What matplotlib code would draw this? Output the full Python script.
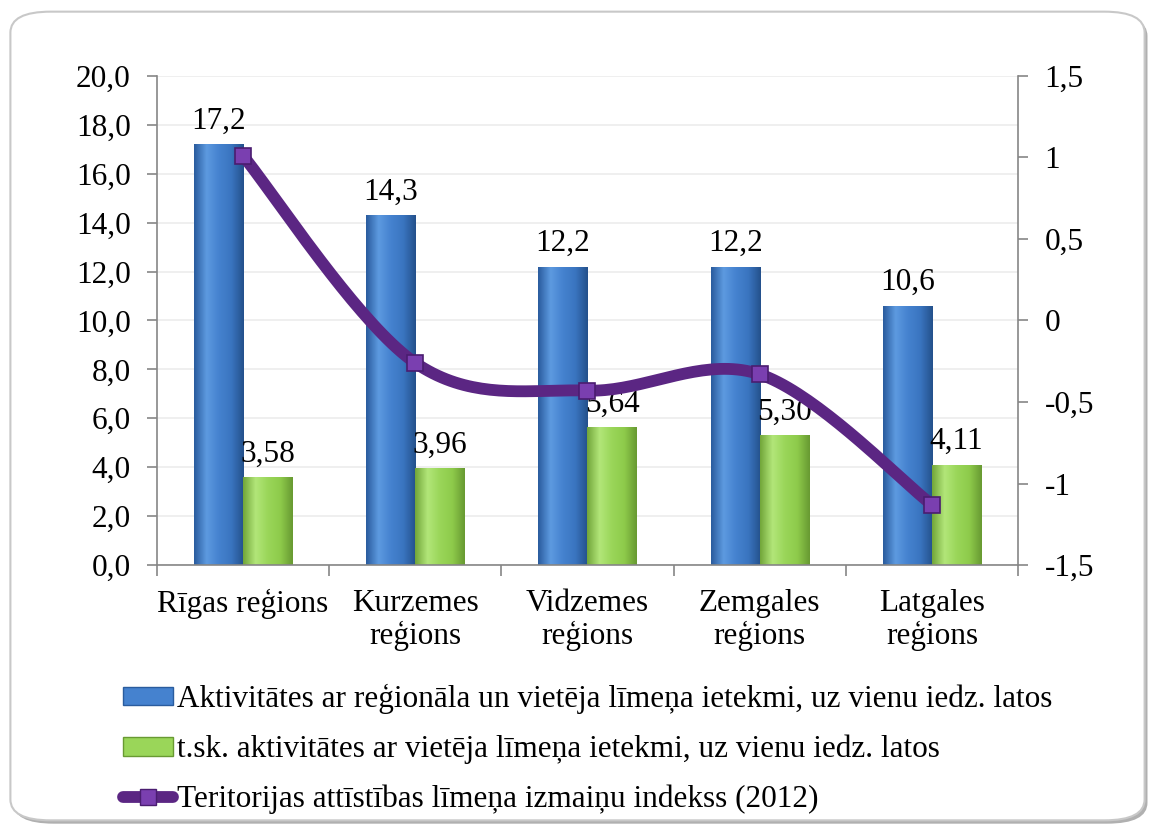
import numpy as np
import matplotlib.pyplot as plt
from matplotlib.patches import FancyBboxPatch, Patch
from matplotlib.lines import Line2D
from matplotlib.colors import LinearSegmentedColormap

plt.rcParams['font.family'] = ['Liberation Serif', 'DejaVu Serif']

# data
regions = ['Rīgas reģions', 'Kurzemes\nreģions', 'Vidzemes\nreģions',
           'Zemgales\nreģions', 'Latgales\nreģions']
total_act = [17.2, 14.3, 12.2, 12.2, 10.6]
local_act = [3.58, 3.96, 5.64, 5.30, 4.11]
total_labels = ['17,2', '14,3', '12,2', '12,2', '10,6']
local_labels = ['3,58', '3,96', '5,64', '5,30', '4,11']
index_2012 = [1.01, -0.26, -0.43, -0.33, -1.13]

legend_labels = ['Aktivitātes ar reģionāla un vietēja līmeņa ietekmi, uz vienu iedz. latos',
                 't.sk. aktivitātes ar vietēja līmeņa ietekmi, uz vienu iedz. latos',
                 'Teritorijas attīstības līmeņa izmaiņu indekss (2012)']
left_ticks = [0, 2, 4, 6, 8, 10, 12, 14, 16, 18, 20]
right_ticks = [-1.5, -1, -0.5, 0, 0.5, 1, 1.5]
right_tick_labels = ['-1,5', '-1', '-0,5', '0', '0,5', '1', '1,5']

blue_cm = LinearSegmentedColormap.from_list('b', ['#2a5c9e', '#5d9ae0', '#4582cf', '#3a75c0', '#24518c'])
green_cm = LinearSegmentedColormap.from_list('g', ['#72a63a', '#b2e679', '#9ad659', '#8ecb4b', '#689a32'])
purple = '#5b2683'
axis_gray = '#868686'
fs = 22.5

fig = plt.figure(figsize=(11.55, 8.32), dpi=100)

# rounded frame around the chart
frame = FancyBboxPatch((0.009, 0.014), 0.982, 0.972, boxstyle='round,pad=0,rounding_size=0.035',
                       transform=fig.transFigure, facecolor='white', edgecolor='#c8c8c8',
                       linewidth=1.5, mutation_aspect=832 / 1155, zorder=-5)
shadow = FancyBboxPatch((0.0115, 0.010), 0.982, 0.972, boxstyle='round,pad=0,rounding_size=0.035',
                        transform=fig.transFigure, facecolor='#b0b0b0', edgecolor='none',
                        mutation_aspect=832 / 1155, zorder=-6)
fig.patches.extend([shadow, frame])

ax = fig.add_axes([0.1359, 0.3209, 0.7455, 0.5878])
ax.patch.set_alpha(0)
x = np.arange(len(regions))
w = 0.285

bars_b = ax.bar(x - w / 2, total_act, width=w, color='#4582cf', zorder=2)
bars_g = ax.bar(x + w / 2, local_act, width=w, color='#9ad659', zorder=2)

grad = np.linspace(0, 1, 100).reshape(1, -1)
for bars, cm in ((bars_b, blue_cm), (bars_g, green_cm)):
    for b in bars:
        bx, by = b.get_x(), b.get_y()
        bw, bh = b.get_width(), b.get_height()
        im = ax.imshow(grad, cmap=cm, extent=(bx, bx + bw, by, by + bh),
                       aspect='auto', zorder=2.5, interpolation='bicubic')
        im.set_clip_path(b)
        b.set_edgecolor('none')

for xi, v, s in zip(x, total_act, total_labels):
    ax.text(xi - w / 2, v + 0.35, s, ha='center', va='bottom', fontsize=fs, zorder=5)
for xi, v, s in zip(x, local_act, local_labels):
    ax.text(xi + w / 2, v + 0.35, s, ha='center', va='bottom', fontsize=fs, zorder=5)

ax.set_xlim(-0.5, len(regions) - 0.5)
ax.set_ylim(0, 20)
ax.set_yticks(left_ticks)
ax.set_yticklabels([f'{t:.1f}'.replace('.', ',') for t in left_ticks])
ax.yaxis.grid(True, color='#ececec', linewidth=1.2, zorder=0)
ax.set_axisbelow(True)
ax.set_xticks(x)
ax.set_xticklabels(regions, linespacing=1.15)
ax.set_xticks(np.arange(-0.5, len(regions), 1), minor=True)
ax.tick_params(axis='x', which='major', length=0, pad=17, labelsize=fs)
ax.tick_params(axis='x', which='minor', length=8, color=axis_gray, width=1.2)
ax.tick_params(axis='y', length=7, color=axis_gray, width=1.2, pad=12, labelsize=fs)
for sp in ['left', 'bottom']:
    ax.spines[sp].set_color(axis_gray)
    ax.spines[sp].set_linewidth(1.2)
ax.spines['top'].set_visible(False)
ax.spines['right'].set_visible(False)

ax2 = ax.twinx()
ax2.set_ylim(-1.5, 1.5)
ax2.set_yticks(right_ticks)
ax2.set_yticklabels(right_tick_labels)
ax2.tick_params(axis='y', length=7, color=axis_gray, width=1.2, pad=12, labelsize=fs)
for sp in ['top', 'left', 'bottom']:
    ax2.spines[sp].set_visible(False)
ax2.spines['right'].set_color(axis_gray)
ax2.spines['right'].set_linewidth(1.2)

# smooth line (Catmull-Rom through the points)
px = np.array(x, dtype=float)
py = np.array(index_2012)
P = np.column_stack([px, py])
P = np.vstack([P[0], P, P[-1]])
cx, cy = [], []
for i in range(1, len(P) - 2):
    p0, p1, p2, p3 = P[i - 1], P[i], P[i + 1], P[i + 2]
    t = np.linspace(0, 1, 40)[:, None]
    c = 0.5 * ((2 * p1) + (-p0 + p2) * t + (2 * p0 - 5 * p1 + 4 * p2 - p3) * t ** 2
               + (-p0 + 3 * p1 - 3 * p2 + p3) * t ** 3)
    cx.extend(c[:, 0])
    cy.extend(c[:, 1])
ax2.plot(cx, cy, color=purple, linewidth=8.5, solid_capstyle='round', zorder=4)
ax2.plot(px, py, linestyle='none', marker='s', markersize=11.5, markerfacecolor='#7a3fb0',
         markeredgecolor='#4a1d70', markeredgewidth=1.2, zorder=5)

handles = [Patch(facecolor='#4582cf', edgecolor='#2a5c9e'),
           Patch(facecolor='#9ad659', edgecolor='#689a32'),
           Line2D([], [], color=purple, linewidth=8.5, solid_capstyle='round', marker='s',
                  markersize=11.5, markerfacecolor='#7a3fb0', markeredgecolor='#4a1d70')]
fig.legend(handles, legend_labels, loc='upper left', bbox_to_anchor=(0.096, 0.193),
           frameon=False, fontsize=fs, handlelength=1.6, handleheight=0.55,
           handletextpad=0.1, labelspacing=0.66, borderaxespad=0)

fig.savefig('out.png', dpi=100)
